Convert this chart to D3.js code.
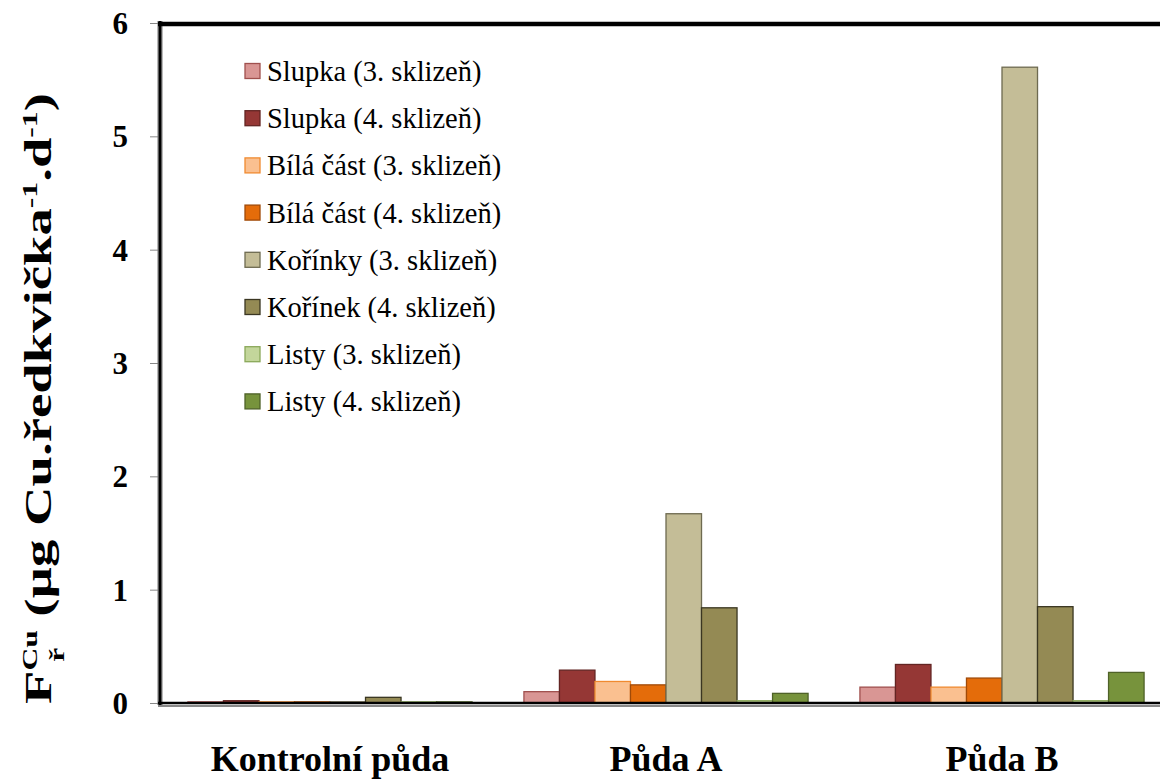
<!DOCTYPE html>
<html><head><meta charset="utf-8">
<script src="https://cdn.jsdelivr.net/npm/d3@7/dist/d3.min.js"></script>
<style>body{margin:0;background:#fff}svg{display:block}</style>
</head><body>
<svg id="c" width="1160" height="780"></svg>
<script>
const categories = ["Kontrolní půda", "Půda A", "Půda B"];
const seriesNames = ["Slupka (3. sklizeň)", "Slupka (4. sklizeň)", "Bílá část (3. sklizeň)", "Bílá část (4. sklizeň)", "Kořínky (3. sklizeň)", "Kořínek (4. sklizeň)", "Listy (3. sklizeň)", "Listy (4. sklizeň)"];
const slupka3 = [0.01, 0.10, 0.14];
const slupka4 = [0.02, 0.29, 0.34];
const bila3 = [0.01, 0.19, 0.14];
const bila4 = [0.01, 0.16, 0.22];
const korinky3 = [0.01, 1.67, 5.61];
const korinek4 = [0.05, 0.84, 0.85];
const listy3 = [0.01, 0.02, 0.02];
const listy4 = [0.01, 0.085, 0.27];
const yTicks = [0, 1, 2, 3, 4, 5, 6];
const fills = ["#d99694", "#953735", "#fac090", "#e46c0a", "#c4bd97", "#948a54", "#c3d69b", "#77933c"];
const strokes = ["#a0504e", "#632523", "#f08a30", "#a04a08", "#6e6a50", "#3a3622", "#8aa85a", "#4f6228"];

const seriesValues = [slupka3, slupka4, bila3, bila4, korinky3, korinek4, listy3, listy4];
const svg = d3.select("#c");
const serif = "'Liberation Serif','Times New Roman',serif";

const y = d3.scaleLinear().domain([0, 6]).range([703, 23]);
const x0 = d3.scaleBand().domain(categories).range([162, 1170]).padding(0);
const x1 = d3.scaleBand().domain(seriesNames).range([0, x0.bandwidth()]).paddingInner(0).paddingOuter(0.73);

// bars
const groups = svg.append("g").selectAll("g").data(categories).join("g")
  .attr("transform", d => `translate(${x0(d)},0)`);
groups.selectAll("rect").data((c, ci) => seriesNames.map((s, si) => ({s, si, v: seriesValues[si][ci]})))
  .join("rect")
  .attr("x", d => x1(d.s))
  .attr("width", x1.bandwidth())
  .attr("y", d => y(d.v))
  .attr("height", d => y(0) - y(d.v))
  .attr("fill", d => fills[d.si])
  .attr("stroke", d => strokes[d.si])
  .attr("stroke-width", 1.3);

// y axis
const yAxis = d3.axisLeft(y).tickValues(yTicks).tickSize(10).tickPadding(22).tickFormat(d3.format("d"));
const ya = svg.append("g").attr("transform", "translate(160,0)").call(yAxis);
ya.select(".domain").remove();
ya.selectAll(".tick line").attr("stroke", "#888").attr("stroke-width", 1);
ya.selectAll(".tick text").attr("font-family", serif).attr("font-weight", "bold").attr("font-size", 31).attr("fill", "#000").attr("dy", "0.34em");

// frame lines
svg.append("line").attr("x1", 160).attr("x2", 160).attr("y1", y(6) - 2).attr("y2", y(0) + 2).attr("stroke", "#777").attr("stroke-width", 5);
svg.append("line").attr("x1", 160).attr("x2", 160).attr("y1", y(6) - 2).attr("y2", y(0) + 2).attr("stroke", "#000").attr("stroke-width", 2.5);
svg.append("line").attr("x1", 158).attr("x2", 1160).attr("y1", y(6) + 1).attr("y2", y(6) + 1).attr("stroke", "#000").attr("stroke-width", 4.5);
svg.append("line").attr("x1", 158).attr("x2", 1160).attr("y1", y(0) + 3).attr("y2", y(0) + 3).attr("stroke", "#888").attr("stroke-width", 2);
svg.append("line").attr("x1", 158).attr("x2", 1160).attr("y1", y(0)).attr("y2", y(0)).attr("stroke", "#000").attr("stroke-width", 2.5);

// x labels
const xAxis = d3.axisBottom(x0).tickSize(0).tickPadding(0);
const xa = svg.append("g").attr("transform", `translate(0,${y(0)})`).call(xAxis);
xa.select(".domain").remove();
xa.selectAll(".tick text").attr("font-family", serif).attr("font-weight", "bold").attr("font-size", 36).attr("fill", "#000").attr("y", 68).attr("dy", 0);

// legend
const lg = svg.append("g").selectAll("g").data(seriesNames).join("g")
  .attr("transform", (d, i) => `translate(245,${71 + i * 47.2})`);
lg.append("rect").attr("x", 0).attr("y", -7.5).attr("width", 15).attr("height", 15)
  .attr("fill", (d, i) => fills[i]).attr("stroke", (d, i) => strokes[i]).attr("stroke-width", 1.3);
lg.append("text").attr("x", 22).attr("y", 0).attr("dy", "0.35em").text(d => d)
  .attr("font-family", serif).attr("font-size", 28.5).attr("fill", "#000");

// y title
const titleLen = 611;
const t = svg.append("text")
  .attr("text-anchor", "start").attr("font-family", serif).attr("font-weight", "bold").attr("font-size", 38).attr("fill", "#000");
t.append("tspan").text("F");
t.append("tspan").text("Cu").attr("font-size", 22).attr("dy", -14);
t.append("tspan").text("ř").attr("font-size", 22).attr("dx", -22).attr("dy", 27);
t.append("tspan").text(" (µg Cu.ředkvička").attr("dx", 12).attr("dy", -13);
t.append("tspan").text("-1").attr("font-size", 22).attr("dy", -14);
t.append("tspan").text(".d").attr("dy", 14);
t.append("tspan").text("-1").attr("font-size", 22).attr("dy", -14);
t.append("tspan").text(")").attr("dy", 14);
const bb = t.node().getBBox();
const sx = titleLen / bb.width;
t.attr("transform", `translate(51,${398.5 + titleLen / 2}) rotate(-90) scale(${sx},1) translate(${-bb.x},0)`);
</script>
</body></html>
